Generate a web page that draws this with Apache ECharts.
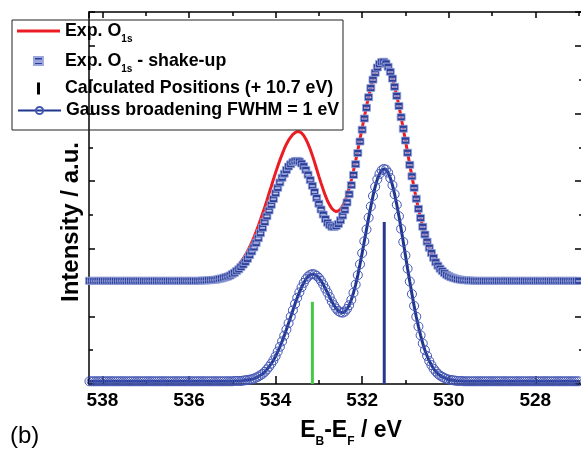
<!DOCTYPE html>
<html><head><meta charset="utf-8">
<script src="https://cdn.jsdelivr.net/npm/echarts@6/dist/echarts.min.js"></script>
<style>html,body{margin:0;padding:0;background:#fff}#c{width:581px;height:451px}</style>
</head><body><div id="c"></div>
<script>
// binding energy grid (eV)
const energy = [
538.30,538.25,538.20,538.15,538.10,538.05,538.00,537.95,537.90,537.85,537.80,537.75,537.70,537.65,537.60,537.55,537.50,537.45,537.40,537.35,
537.30,537.25,537.20,537.15,537.10,537.05,537.00,536.95,536.90,536.85,536.80,536.75,536.70,536.65,536.60,536.55,536.50,536.45,536.40,536.35,
536.30,536.25,536.20,536.15,536.10,536.05,536.00,535.95,535.90,535.85,535.80,535.75,535.70,535.65,535.60,535.55,535.50,535.45,535.40,535.35,
535.30,535.25,535.20,535.15,535.10,535.05,535.00,534.95,534.90,534.85,534.80,534.75,534.70,534.65,534.60,534.55,534.50,534.45,534.40,534.35,
534.30,534.25,534.20,534.15,534.10,534.05,534.00,533.95,533.90,533.85,533.80,533.75,533.70,533.65,533.60,533.55,533.50,533.45,533.40,533.35,
533.30,533.25,533.20,533.15,533.10,533.05,533.00,532.95,532.90,532.85,532.80,532.75,532.70,532.65,532.60,532.55,532.50,532.45,532.40,532.35,
532.30,532.25,532.20,532.15,532.10,532.05,532.00,531.95,531.90,531.85,531.80,531.75,531.70,531.65,531.60,531.55,531.50,531.45,531.40,531.35,
531.30,531.25,531.20,531.15,531.10,531.05,531.00,530.95,530.90,530.85,530.80,530.75,530.70,530.65,530.60,530.55,530.50,530.45,530.40,530.35,
530.30,530.25,530.20,530.15,530.10,530.05,530.00,529.95,529.90,529.85,529.80,529.75,529.70,529.65,529.60,529.55,529.50,529.45,529.40,529.35,
529.30,529.25,529.20,529.15,529.10,529.05,529.00,528.95,528.90,528.85,528.80,528.75,528.70,528.65,528.60,528.55,528.50,528.45,528.40,528.35,
528.30,528.25,528.20,528.15,528.10,528.05,528.00,527.95,527.90,527.85,527.80,527.75,527.70,527.65,527.60,527.55,527.50,527.45,527.40,527.35,
527.30,527.25,527.20,527.15,527.10,527.05,527.00
];
// Exp. O1s (red line), offset trace
const expO1s = [
3.05,3.05,3.05,3.05,3.05,3.05,3.05,3.05,3.05,3.05,3.05,3.05,3.05,3.05,3.05,3.05,3.05,3.05,3.05,3.05,
3.05,3.05,3.05,3.05,3.05,3.05,3.05,3.05,3.05,3.05,3.05,3.05,3.05,3.05,3.05,3.05,3.05,3.05,3.05,3.05,
3.05,3.05,3.05,3.05,3.05,3.05,3.05,3.05,3.05,3.05,3.06,3.06,3.06,3.07,3.07,3.08,3.08,3.09,3.11,3.12,
3.14,3.16,3.18,3.21,3.25,3.29,3.34,3.39,3.45,3.53,3.61,3.70,3.81,3.92,4.05,4.19,4.34,4.50,4.67,4.85,
5.04,5.23,5.43,5.64,5.84,6.05,6.25,6.44,6.62,6.79,6.95,7.09,7.21,7.30,7.38,7.43,7.46,7.46,7.42,7.35,
7.24,7.10,6.94,6.76,6.56,6.35,6.14,5.94,5.75,5.57,5.41,5.29,5.19,5.13,5.10,5.12,5.17,5.27,5.40,5.58,
5.79,6.03,6.31,6.60,6.91,7.24,7.57,7.89,8.21,8.50,8.77,9.01,9.21,9.36,9.47,9.53,9.53,9.48,9.38,9.23,
9.03,8.79,8.52,8.22,7.89,7.55,7.20,6.84,6.48,6.14,5.80,5.48,5.18,4.91,4.65,4.42,4.21,4.03,3.87,3.73,
3.60,3.50,3.41,3.34,3.28,3.23,3.19,3.16,3.14,3.12,3.10,3.09,3.08,3.07,3.07,3.06,3.06,3.06,3.05,3.05,
3.05,3.05,3.05,3.05,3.05,3.05,3.05,3.05,3.05,3.05,3.05,3.05,3.05,3.05,3.05,3.05,3.05,3.05,3.05,3.05,
3.05,3.05,3.05,3.05,3.05,3.05,3.05,3.05,3.05,3.05,3.05,3.05,3.05,3.05,3.05,3.05,3.05,3.05,3.05,3.05,
3.05,3.05,3.05,3.05,3.05,3.05,3.05
];
// Exp. O1s - shake-up (squares)
const expShakeUp = [
3.05,3.05,3.05,3.05,3.05,3.05,3.05,3.05,3.05,3.05,3.05,3.05,3.05,3.05,3.05,3.05,3.05,3.05,3.05,3.05,
3.05,3.05,3.05,3.05,3.05,3.05,3.05,3.05,3.05,3.05,3.05,3.05,3.05,3.05,3.05,3.05,3.05,3.05,3.05,3.05,
3.05,3.05,3.05,3.05,3.05,3.05,3.05,3.05,3.05,3.05,3.05,3.05,3.06,3.06,3.06,3.07,3.07,3.08,3.08,3.09,
3.11,3.12,3.14,3.16,3.18,3.21,3.25,3.29,3.34,3.39,3.46,3.53,3.61,3.70,3.81,3.92,4.04,4.17,4.31,4.46,
4.62,4.79,4.96,5.13,5.30,5.47,5.64,5.80,5.96,6.10,6.22,6.33,6.43,6.50,6.56,6.59,6.60,6.58,6.52,6.44,
6.33,6.19,6.03,5.86,5.68,5.50,5.33,5.16,5.01,4.88,4.77,4.70,4.65,4.64,4.67,4.73,4.84,4.98,5.15,5.37,
5.61,5.88,6.18,6.50,6.83,7.17,7.52,7.85,8.17,8.48,8.75,9.00,9.20,9.36,9.46,9.52,9.53,9.48,9.38,9.23,
9.03,8.79,8.52,8.22,7.89,7.55,7.20,6.84,6.48,6.14,5.80,5.48,5.18,4.91,4.65,4.42,4.21,4.03,3.87,3.73,
3.60,3.50,3.41,3.34,3.28,3.23,3.19,3.16,3.14,3.12,3.10,3.09,3.08,3.07,3.07,3.06,3.06,3.06,3.05,3.05,
3.05,3.05,3.05,3.05,3.05,3.05,3.05,3.05,3.05,3.05,3.05,3.05,3.05,3.05,3.05,3.05,3.05,3.05,3.05,3.05,
3.05,3.05,3.05,3.05,3.05,3.05,3.05,3.05,3.05,3.05,3.05,3.05,3.05,3.05,3.05,3.05,3.05,3.05,3.05,3.05,
3.05,3.05,3.05,3.05,3.05,3.05,3.05
];
// Gauss broadening FWHM = 1 eV (line + circles)
const gaussBroadened = [
0.08,0.08,0.08,0.08,0.08,0.08,0.08,0.08,0.08,0.08,0.08,0.08,0.08,0.08,0.08,0.08,0.08,0.08,0.08,0.08,
0.08,0.08,0.08,0.08,0.08,0.08,0.08,0.08,0.08,0.08,0.08,0.08,0.08,0.08,0.08,0.08,0.08,0.08,0.08,0.08,
0.08,0.08,0.08,0.08,0.08,0.08,0.08,0.08,0.08,0.08,0.08,0.08,0.08,0.08,0.08,0.08,0.08,0.08,0.08,0.08,
0.08,0.08,0.08,0.08,0.08,0.08,0.08,0.09,0.09,0.09,0.09,0.10,0.11,0.12,0.13,0.14,0.16,0.19,0.22,0.26,
0.30,0.36,0.43,0.51,0.60,0.70,0.82,0.96,1.10,1.26,1.43,1.61,1.80,1.99,2.18,2.37,2.55,2.71,2.86,2.99,
3.10,3.18,3.23,3.25,3.24,3.20,3.14,3.05,2.94,2.82,2.70,2.57,2.44,2.33,2.23,2.16,2.12,2.11,2.14,2.22,
2.33,2.49,2.70,2.94,3.22,3.54,3.87,4.22,4.57,4.92,5.25,5.56,5.83,6.05,6.21,6.32,6.36,6.34,6.25,6.09,
5.88,5.61,5.30,4.96,4.59,4.20,3.80,3.41,3.03,2.66,2.31,1.99,1.70,1.44,1.20,1.00,0.83,0.68,0.56,0.45,
0.37,0.30,0.25,0.21,0.18,0.15,0.13,0.12,0.11,0.10,0.09,0.09,0.09,0.08,0.08,0.08,0.08,0.08,0.08,0.08,
0.08,0.08,0.08,0.08,0.08,0.08,0.08,0.08,0.08,0.08,0.08,0.08,0.08,0.08,0.08,0.08,0.08,0.08,0.08,0.08,
0.08,0.08,0.08,0.08,0.08,0.08,0.08,0.08,0.08,0.08,0.08,0.08,0.08,0.08,0.08,0.08,0.08,0.08,0.08,0.08,
0.08,0.08,0.08,0.08,0.08,0.08,0.08
];
// Calculated positions (+10.7 eV) and stick heights
const calcPositions = [533.15, 531.49];
const calcIntensity = [2.43, 4.79];

const seriesNames = ['Exp. O1s', 'Exp. O1s - shake-up', 'Calculated Positions (+ 10.7 eV)', 'Gauss broadening FWHM = 1 eV'];
const legendLabels = {
  'Exp. O1s': '{m|Exp. O}{s|1s}',
  'Exp. O1s - shake-up': '{m|Exp. O}{s|1s}{m| - shake-up}',
  'Calculated Positions (+ 10.7 eV)': '{m|Calculated Positions (+ 10.7 eV)}',
  'Gauss broadening FWHM = 1 eV': '{m|Gauss broadening FWHM = 1 eV}'
};
const stickColors = ['#46c846', '#26398f'];

const FONT = '"Liberation Sans", Arial, Helvetica, sans-serif';
const BLACK = '#000';
const pair = ys => energy.map((e, i) => [e, ys[i]]);
const SQUARE = 'path://M0,0H10V9H0Z M2,4V5.5H8V4Z';

const chart = echarts.init(document.getElementById('c'));

const frameX = pos => ({
  type: 'value', gridIndex: 0, position: pos, min: 0, max: 1,
  axisLine: { show: true, onZero: false, lineStyle: { color: BLACK, width: 1.5 } },
  axisTick: { show: false }, axisLabel: { show: false }, splitLine: { show: false }
});
const frameY = (pos, majorLen, minorLen) => ({
  type: 'value', gridIndex: 0, position: pos, min: 0, max: 11, interval: 2,
  axisLine: { show: true, onZero: false, lineStyle: { color: BLACK, width: 1.5 } },
  axisTick: { show: true, inside: true, length: majorLen, lineStyle: { color: BLACK, width: 1.5 } },
  minorTick: { show: true, splitNumber: 2, length: minorLen, lineStyle: { color: BLACK, width: 1.5 } },
  axisLabel: { show: false }, splitLine: { show: false }
});
const energyAxis = (pos, majorLen, labels) => ({
  type: 'value', gridIndex: 1, position: pos, inverse: true, min: 526, max: 538.31, interval: 2,
  axisLine: { show: false },
  axisTick: { show: true, inside: true, length: majorLen, lineStyle: { color: BLACK, width: 1.5 } },
  minorTick: { show: true, splitNumber: 2, length: 4, lineStyle: { color: BLACK, width: 1.5 } },
  axisLabel: {
    show: labels, margin: 7, color: BLACK, fontSize: 19, fontWeight: 'bold', fontFamily: FONT,
    formatter: v => (Math.abs(v - Math.round(v)) < 1e-6 && v > 526.5) ? String(Math.round(v)) : ''
  },
  splitLine: { show: false }
});

const legendText = {
  color: BLACK, fontFamily: FONT, fontSize: 17.8, fontWeight: 'bold',
  rich: {
    m: { fontSize: 17.8, fontWeight: 'bold', fontFamily: FONT, color: BLACK, lineHeight: 18 },
    s: { fontSize: 10, fontWeight: 'bold', fontFamily: FONT, color: BLACK, lineHeight: 27, verticalAlign: 'bottom' }
  }
};
const legendBase = {
  orient: 'vertical', padding: 0, selectedMode: false, itemWidth: 43,
  textStyle: legendText, formatter: n => legendLabels[n]
};

chart.setOption({
  animation: false,
  backgroundColor: '#fff',
  grid: [
    { left: 89, right: -1, top: 12, bottom: 67, outerBoundsMode: 'none', containLabel: false },
    { left: 89, right: -40.9, top: 12, bottom: 67, outerBoundsMode: 'none', containLabel: false }
  ],
  xAxis: [frameX('bottom'), frameX('top'), energyAxis('bottom', 8, true), energyAxis('top', 6, false)],
  yAxis: [frameY('left', 6, 4), frameY('right', 7, 3), { type: 'value', gridIndex: 1, min: 0, max: 11, show: false }],
  legend: [
    Object.assign({}, legendBase, { data: [{ name: seriesNames[0], icon: 'path://M0,0H43V3H0Z' }], left: 17, top: 22, itemHeight: 10 }),
    Object.assign({}, legendBase, { data: [seriesNames[1]], left: 33, top: 52, itemHeight: 8 }),
    Object.assign({}, legendBase, { data: [{ name: seriesNames[2], icon: 'path://M0,0H3V12H0Z' }], left: 37, top: 79.5, itemHeight: 12 }),
    Object.assign({}, legendBase, { data: [seriesNames[3]], left: 17, top: 101.5, itemHeight: 9 })
  ],
  graphic: [
    { type: 'rect', silent: true, z: 100, shape: { x: 12, y: 20, width: 331, height: 110 },
      style: { fill: 'none', stroke: '#222', lineWidth: 1 } },
    { type: 'text', silent: true, x: 71, y: 222, rotation: Math.PI / 2,
      style: { text: 'Intensity / a.u.', font: 'bold 24px ' + FONT, fill: BLACK, align: 'center', verticalAlign: 'middle', textAlign: 'center', textVerticalAlign: 'middle' } },
    { type: 'text', silent: true, x: 351, y: 430.5,
      style: { text: '{m|E}{s|B}{m|-E}{s|F}{m| / eV}', fill: BLACK, align: 'center', verticalAlign: 'middle', textAlign: 'center', textVerticalAlign: 'middle',
        rich: {
          m: { fontSize: 23, fontWeight: 'bold', fontFamily: FONT, fill: BLACK, lineHeight: 23 },
          s: { fontSize: 12, fontWeight: 'bold', fontFamily: FONT, fill: BLACK, lineHeight: 35, verticalAlign: 'bottom' }
        } } },
    { type: 'text', silent: true, x: 10, y: 436,
      style: { text: '(b)', font: '24px ' + FONT, fill: BLACK, align: 'left', verticalAlign: 'middle', textAlign: 'left', textVerticalAlign: 'middle' } }
  ],
  series: [
    { name: seriesNames[0], type: 'line', xAxisIndex: 2, yAxisIndex: 2, data: pair(expO1s), symbol: 'none',
      lineStyle: { color: '#ec1c24', width: 3 }, itemStyle: { color: '#ec1c24' }, silent: true, z: 2 },
    { name: seriesNames[1], type: 'scatter', xAxisIndex: 2, yAxisIndex: 2, data: pair(expShakeUp), symbol: SQUARE, symbolSize: [8, 7],
      itemStyle: { color: '#2b3e98', borderColor: '#9aa6dd', borderWidth: 0.8, opacity: 1 }, silent: true, z: 3 },
    { name: seriesNames[2], type: 'bar', xAxisIndex: 2, yAxisIndex: 2, barWidth: 3,
      data: calcPositions.map((p, i) => ({ value: [p, calcIntensity[i]], itemStyle: { color: stickColors[i] } })),
      itemStyle: { color: BLACK }, silent: true, z: 4 },
    { name: seriesNames[3], type: 'line', xAxisIndex: 2, yAxisIndex: 2, data: pair(gaussBroadened), symbol: 'circle', symbolSize: 9, showSymbol: true,
      lineStyle: { color: '#1f3690', width: 3 }, itemStyle: { color: 'rgba(255,255,255,0)', borderColor: '#4557b5', borderWidth: 1 }, silent: true, z: 5 }
  ]
});
</script></body></html>
